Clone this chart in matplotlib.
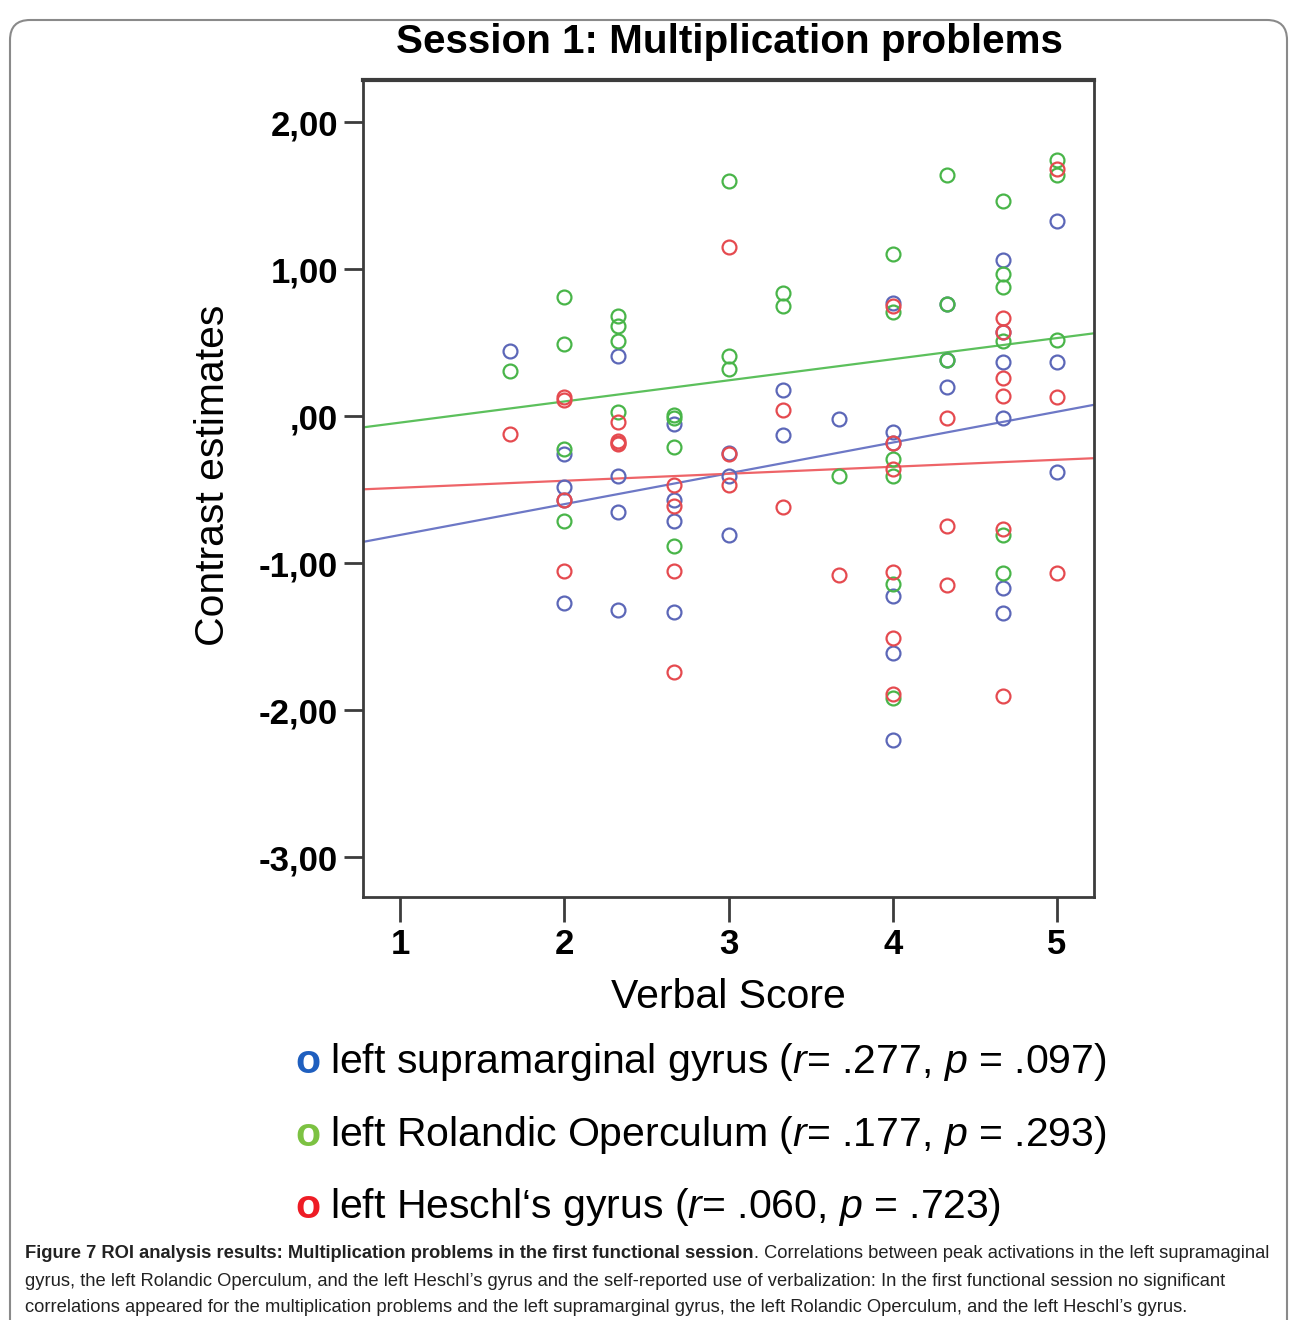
import numpy as np
import matplotlib
matplotlib.use("Agg")
import matplotlib.pyplot as plt
from matplotlib.patches import FancyBboxPatch
from matplotlib.transforms import IdentityTransform

plt.rcParams['font.family'] = ['Liberation Sans Narrow', 'Liberation Sans', 'DejaVu Sans']
plt.rcParams['mathtext.fontset'] = 'custom'
plt.rcParams['mathtext.rm'] = 'Liberation Sans'
plt.rcParams['mathtext.it'] = 'Liberation Sans:italic'

# verbal score of each subject (x)
verbal = [1.67,
          2, 2, 2, 2,
          2.33, 2.33, 2.33, 2.33,
          2.67, 2.67, 2.67, 2.67,
          3, 3, 3,
          3.33, 3.33,
          3.67,
          4, 4, 4, 4, 4, 4,
          4.33, 4.33, 4.33,
          4.67, 4.67, 4.67, 4.67, 4.67, 4.67,
          5, 5, 5]

# contrast estimates per ROI (same subject order)
supramarginal = [0.44,
                 -0.26, -0.48, -0.57, -1.27,
                 0.41, -0.41, -0.65, -1.32,
                 -0.05, -0.57, -0.71, -1.33,
                 -0.25, -0.41, -0.81,
                 0.18, -0.13,
                 -0.02,
                 0.77, -0.11, -0.18, -1.22, -1.61, -2.20,
                 0.76, 0.38, 0.20,
                 1.06, 0.57, 0.37, -0.01, -1.17, -1.34,
                 1.33, 0.37, -0.38]
rolandic = [0.31,
            0.81, 0.49, -0.22, -0.71,
            0.68, 0.61, 0.51, 0.03,
            0.01, -0.01, -0.21, -0.88,
            1.60, 0.41, 0.32,
            0.84, 0.75,
            -0.41,
            1.10, 0.71, -0.29, -0.41, -1.14, -1.92,
            1.64, 0.76, 0.38,
            1.46, 0.97, 0.88, 0.51, -0.81, -1.07,
            1.74, 1.64, 0.52]
heschl = [-0.12,
          0.13, 0.11, -0.57, -1.05,
          -0.04, -0.17, -0.19, -0.18,
          -0.47, -0.61, -1.05, -1.74,
          1.15, -0.26, -0.47,
          0.04, -0.62,
          -1.08,
          0.75, -0.18, -0.36, -1.06, -1.51, -1.89,
          -0.01, -0.75, -1.15,
          0.67, 0.57, 0.26, 0.14, -0.77, -1.90,
          1.68, 0.13, -1.07]

y_ticks = [-3, -2, -1, 0, 1, 2]
y_ticklabels = ['-3,00', '-2,00', '-1,00', ',00', '1,00', '2,00']
x_ticks = [1, 2, 3, 4, 5]

legend_rows = [
    ('left supramarginal gyrus ($\\mathit{r}$= .277, $\\mathit{p}$ = .097)', '#1f5fbf'),
    ('left Rolandic Operculum ($\\mathit{r}$= .177, $\\mathit{p}$ = .293)', '#7cc242'),
    ('left Heschl\u2018s gyrus ($\\mathit{r}$= .060, $\\mathit{p}$ = .723)', '#ee1c25'),
]

series = [(supramarginal, '#5c67b8', '#6d78c6'),
          (rolandic, '#49b549', '#5cc05c'),
          (heschl, '#e54a4f', '#ee6468')]

W, H = 1290, 1320
fig = plt.figure(figsize=(W / 100, H / 100), dpi=100)
fig.patch.set_facecolor('white')

# rounded frame of the figure panel
fig.add_artist(FancyBboxPatch((10, -30), 1277, 1330, boxstyle="round,pad=0,rounding_size=20",
                              transform=IdentityTransform(), fc='none', ec='#8a8a8a', lw=1.5))

ax = fig.add_axes([363 / W, 1 - 897 / H, (1094 - 363) / W, (897 - 80) / H])
xlim = (0.775, 5.225)
ax.set_xlim(*xlim)
ax.set_ylim(-3.27, 2.286)

x = np.array(verbal)
for vals, mc, lc in series:
    ax.plot(x, vals, 'o', ms=10, mfc='none', mec=mc, mew=1.6, zorder=3)
for vals, mc, lc in series:
    k, d = np.polyfit(x, vals, 1)
    xx = np.array(xlim)
    ax.plot(xx, k * xx + d, color=lc, lw=1.6, zorder=2)

for s in ax.spines.values():
    s.set_color('#3c3c3c')
    s.set_linewidth(2)
ax.spines['top'].set_linewidth(3)

ax.set_yticks(y_ticks)
ax.set_yticklabels(y_ticklabels)
ax.set_xticks(x_ticks)
ax.tick_params(axis='y', length=14, width=2, color='#3c3c3c', pad=4, labelsize=25)
ax.tick_params(axis='x', length=18, width=2, color='#3c3c3c', pad=4, labelsize=25)
for lab in ax.get_xticklabels() + ax.get_yticklabels():
    lab.set_fontweight('bold')

r = fig.canvas.get_renderer()


def fit(t, target):
    w = t.get_window_extent(r).width
    t.set_fontsize(t.get_fontsize() * target / w)
    return t.get_fontsize()


title = fig.text(729 / W, 1 - 42 / H, 'Session 1: Multiplication problems', ha='center', va='center',
                 fontsize=30, fontweight='bold')
fit(title, 666)

yl = fig.text(213 / W, 1 - 475 / H, 'Contrast estimates', rotation=90, ha='center', va='center', fontsize=30)
w = yl.get_window_extent(r).height
yl.set_fontsize(30 * 340 / w)

xl = fig.text(728 / W, 1 - 997 / H, 'Verbal Score', ha='center', va='center', fontsize=30)
fit(xl, 235)

# legend rows
row_y = [1062, 1135, 1207]
t0 = fig.text(330 / W, 1 - row_y[0] / H, legend_rows[0][0], ha='left', va='center', fontsize=28)
fs = fit(t0, 777)
for i, (txt, col) in enumerate(legend_rows):
    if i > 0:
        fig.text(330 / W, 1 - row_y[i] / H, txt, ha='left', va='center', fontsize=fs)
    fig.text(308 / W, 1 - row_y[i] / H, 'o', ha='center', va='center', fontsize=fs,
             fontweight='bold', color=col)

# caption
cap_y = [1254, 1281, 1307]
cap2 = fig.text(25 / W, 1 - cap_y[1] / H,
                'gyrus, the left Rolandic Operculum, and the left Heschl\u2019s gyrus and the self-reported use of '
                'verbalization: In the first functional session no significant',
                ha='left', va='center', fontsize=14, color='#222222')
cfs = fit(cap2, 1204)
fig.text(25 / W, 1 - cap_y[2] / H,
         'correlations appeared for the multiplication problems and the left supramarginal gyrus, the left '
         'Rolandic Operculum, and the left Heschl\u2019s gyrus.',
         ha='left', va='center', fontsize=cfs, color='#222222')
b = fig.text(25 / W, 1 - cap_y[0] / H,
             'Figure 7 ROI analysis results: Multiplication problems in the first functional session',
             ha='left', va='center', fontsize=cfs, fontweight='bold', color='#222222')
bx = b.get_window_extent(r).x1
fig.text(bx / W, 1 - cap_y[0] / H,
         '. Correlations between peak activations in the left supramaginal',
         ha='left', va='center', fontsize=cfs, color='#222222')

fig.savefig('out.png', dpi=100)
